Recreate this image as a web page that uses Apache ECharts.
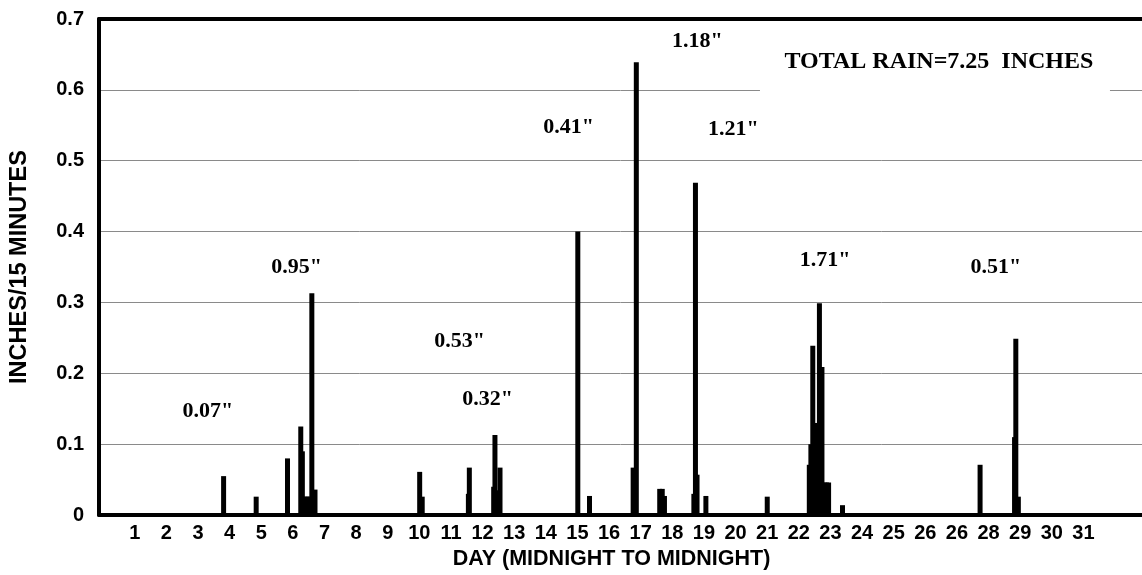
<!DOCTYPE html>
<html>
<head>
<meta charset="utf-8">
<script src="https://cdn.jsdelivr.net/npm/echarts@6/dist/echarts.min.js"></script>
<style>
html,body{margin:0;padding:0;background:#fff;}
#chart{width:1142px;height:575px;}
</style>
</head>
<body>
<div id="chart"></div>
<script>
// Day (fractional) of each 15-minute reading and its rainfall (inches/15 min)
var rainDays = [3.81, 4.84, 5.83, 6.25, 6.30, 6.36, 6.42, 6.48, 6.54, 6.60, 6.70,
  10.01, 10.09, 11.55, 11.58, 12.35, 12.39, 12.47, 12.55,
  15.01, 15.38, 16.76, 16.86, 17.60, 17.68, 17.75, 18.68, 18.73, 18.78, 19.06,
  21.00, 22.33, 22.38, 22.44, 22.50, 22.56, 22.65, 22.73, 22.80, 22.87, 22.94, 23.38,
  27.73, 28.82, 28.86, 28.94];
var rainValues = [0.055, 0.026, 0.080, 0.125, 0.090, 0.026, 0.026, 0.026, 0.026, 0.313, 0.036,
  0.061, 0.026, 0.030, 0.067, 0.040, 0.113, 0.035, 0.067,
  0.400, 0.027, 0.067, 0.639, 0.037, 0.037, 0.027, 0.030, 0.469, 0.057, 0.027,
  0.026, 0.071, 0.100, 0.239, 0.110, 0.130, 0.299, 0.209, 0.046, 0.046, 0.046, 0.014,
  0.071, 0.110, 0.249, 0.026];
// Tick labels of the day axis (as printed, including the repeated "26")
var dayTicks = [1,2,3,4,5,6,7,8,9,10,11,12,13,14,15,16,17,18,19,20,21,22,23,24,25,26,27,28,29,30,31];
var dayLabels = ['1','2','3','4','5','6','7','8','9','10','11','12','13','14','15','16','17','18','19','20','21','22','23','24','25','26','26','28','29','30','31'];
var yTicks = [0, 0.1, 0.2, 0.3, 0.4, 0.5, 0.6, 0.7];
// Storm totals: anchor day, anchor value, text
var stormDays = [3.31, 6.12, 11.27, 12.16, 14.72, 18.79, 19.93, 22.83, 28.23];
var stormValues = [0.146, 0.350, 0.245, 0.163, 0.547, 0.669, 0.544, 0.360, 0.350];
var stormTexts = ['0.07"', '0.95"', '0.53"', '0.32"', '0.41"', '1.18"', '1.21"', '1.71"', '0.51"'];
var totalText = 'TOTAL RAIN=7.25  INCHES';
var totalAnchor = [26.43, 0.640];

var barData = rainDays.map(function (d, i) { return [d, rainValues[i]]; });
var stormData = stormDays.map(function (d, i) { return [d, stormValues[i], stormTexts[i]]; });

var chart = echarts.init(document.getElementById('chart'));
var sans = 'Liberation Sans, Arial, sans-serif';
var serif = 'Liberation Serif, Times New Roman, serif';
chart.setOption({
  animation: false,
  backgroundColor: '#fff',
  grid: { left: 98, right: 0, top: 19, bottom: 58, containLabel: false },
  xAxis: [{
    type: 'value', min: -0.13, max: 32.85,
    name: 'DAY (MIDNIGHT TO MIDNIGHT)', nameLocation: 'middle', nameGap: 26,
    nameTextStyle: { fontFamily: sans, fontWeight: 'bold', fontSize: 21.5, color: '#000', padding: [0, 18, 0, 0] },
    axisLine: { show: true, onZero: false, lineStyle: { color: '#000', width: 4 } },
    axisTick: { show: false },
    splitLine: { show: false },
    axisLabel: {
      customValues: dayTicks, margin: 8,
      fontFamily: sans, fontWeight: 'bold', fontSize: 20, color: '#000',
      formatter: function (v) { var i = dayTicks.indexOf(Math.round(v)); return i >= 0 ? dayLabels[i] : ''; }
    }
  }, {
    type: 'value', position: 'top', min: -0.13, max: 32.85,
    axisLine: { show: true, onZero: false, lineStyle: { color: '#000', width: 4 } },
    axisTick: { show: false }, axisLabel: { show: false }, splitLine: { show: false }
  }],
  yAxis: {
    type: 'value', min: 0, max: 0.7, interval: 0.1,
    name: 'INCHES/15 MINUTES', nameLocation: 'middle', nameGap: 67,
    nameTextStyle: { fontFamily: sans, fontWeight: 'bold', fontSize: 23.5, color: '#000' },
    axisLine: { show: true, onZero: false, lineStyle: { color: '#000', width: 4 } },
    axisTick: { show: false },
    splitLine: { show: true, lineStyle: { color: '#8a8a8a', width: 1 } },
    axisLabel: {
      margin: 15, fontFamily: sans, fontWeight: 'bold', fontSize: 20, color: '#000',
      formatter: function (v) { return v === 0 ? '0' : v.toFixed(1); }
    }
  },
  series: [{
    type: 'bar', data: barData, barWidth: 5, itemStyle: { color: '#000' }, z: 3
  }, {
    type: 'scatter', data: stormData, symbolSize: 0, z: 4,
    itemStyle: { color: '#000', opacity: 1 },
    label: {
      show: true, position: 'inside', formatter: function (p) { return p.data[2]; },
      fontFamily: serif, fontWeight: 'bold', fontSize: 22, color: '#000', opacity: 1,
      textBorderWidth: 0, textBorderColor: 'transparent'
    }
  }]
});

// "TOTAL RAIN" note on a white box that hides the grid line behind it
var p = chart.convertToPixel({ gridIndex: 0 }, totalAnchor);
chart.setOption({
  graphic: [{
    type: 'rect', z: 100,
    shape: { x: p[0] - 179, y: p[1] - 22, width: 350, height: 60 },
    style: { fill: '#fff' }
  }, {
    type: 'text', z: 101, x: p[0], y: p[1],
    style: {
      text: totalText, fill: '#000', align: 'center', verticalAlign: 'middle',
      font: 'bold 24px ' + serif
    }
  }]
});
</script>
</body>
</html>
